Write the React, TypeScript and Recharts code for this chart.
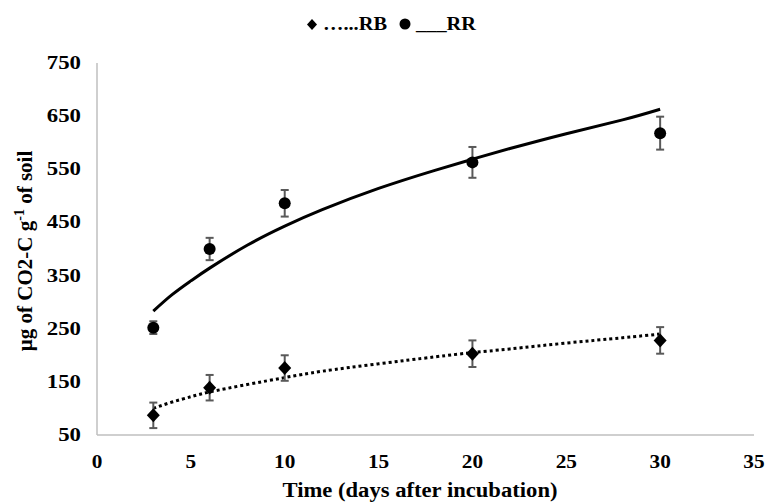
import React from "react";
import {
  ComposedChart,
  XAxis,
  YAxis,
  Scatter,
  Line,
  ErrorBar,
} from "recharts";

// Measured days
const days = [3, 6, 10, 20, 30];
// RB (dotted) values and error bars
const rbValues = [87, 139, 176, 203, 228];
const rbErrors = [24, 24, 24, 25, 25];
// RR (solid) values and error bars
const rrValues = [252, 400, 486, 563, 618];
const rrErrors = [12, 21, 25, 29, 31];

// Trend curves
const trendDays = [3, 4, 5, 6, 8, 10, 12, 15, 18, 20, 22, 25, 28, 30];
const rbTrendValues = [100, 112, 122, 131, 145, 158, 170, 184, 197, 205, 212, 223, 233, 240];
const rrTrendValues = [283, 314, 340, 364, 407, 443, 474, 514, 548, 569, 589, 617, 643, 663];

const xTicks = [0, 5, 10, 15, 20, 25, 30, 35];
const yTicks = [50, 150, 250, 350, 450, 550, 650, 750];

const rbData = days.map((d, i) => ({ x: d, y: rbValues[i], err: rbErrors[i] }));
const rrData = days.map((d, i) => ({ x: d, y: rrValues[i], err: rrErrors[i] }));
const rbTrend = trendDays.map((d, i) => ({ x: d, y: rbTrendValues[i] }));
const rrTrend = trendDays.map((d, i) => ({ x: d, y: rrTrendValues[i] }));

const serif: React.CSSProperties = {
  fontFamily: "Liberation Serif, Times New Roman, serif",
  fontWeight: 700,
};

const XTick = (props: any) => {
  const { x, y, payload } = props;
  return (
    <text
      x={x}
      y={y + 31}
      textAnchor="middle"
      style={{ ...serif, fontSize: 19 }}
      fill="#000"
      transform={`translate(${x},0) scale(1.12,1) translate(${-x},0)`}
    >
      {payload.value}
    </text>
  );
};

const YTick = (props: any) => {
  const { y, payload } = props;
  return (
    <text
      x={81}
      y={y + 6}
      textAnchor="end"
      style={{ ...serif, fontSize: 19 }}
      fill="#000"
      transform={`translate(81,0) scale(1.2,1) translate(-81,0)`}
    >
      {payload.value}
    </text>
  );
};

const Diamond = (props: any) => {
  const { cx, cy } = props;
  if (cx == null || cy == null) return null;
  return (
    <path
      d={`M${cx},${cy - 7} L${cx + 6.5},${cy} L${cx},${cy + 7} L${cx - 6.5},${cy} Z`}
      fill="#000"
    />
  );
};

const Dot = (props: any) => {
  const { cx, cy } = props;
  if (cx == null || cy == null) return null;
  return <circle cx={cx} cy={cy} r={6} fill="#000" />;
};

export default function App() {
  return (
    <div style={{ position: "absolute", left: 0, top: 0, width: 767, height: 504, background: "#fff" }}>
      <ComposedChart
        width={767}
        height={504}
        margin={{ top: 63, right: 13, bottom: 0, left: 0 }}
      >
        <XAxis
          dataKey="x"
          type="number"
          domain={[0, 35]}
          ticks={xTicks}
          allowDataOverflow
          height={69}
          tickLine={false}
          tickSize={0}
          axisLine={{ stroke: "#bfbfbf", strokeWidth: 1.5 }}
          tick={<XTick />}
          interval={0}
        />
        <YAxis
          type="number"
          domain={[50, 750]}
          ticks={yTicks}
          allowDataOverflow
          width={97}
          tickLine={false}
          tickSize={0}
          axisLine={{ stroke: "#bfbfbf", strokeWidth: 1.5 }}
          tick={<YTick />}
          interval={0}
        />
        <Line
          data={rrTrend}
          dataKey="y"
          type="natural"
          stroke="#000"
          strokeWidth={3}
          dot={false}
          activeDot={false}
          isAnimationActive={false}
        />
        <Line
          data={rbTrend}
          dataKey="y"
          type="natural"
          stroke="#000"
          strokeWidth={3}
          strokeDasharray="3 3"
          dot={false}
          activeDot={false}
          isAnimationActive={false}
        />
        <Scatter data={rrData} dataKey="y" shape={<Dot />} isAnimationActive={false}>
          <ErrorBar dataKey="err" direction="y" width={4} stroke="#595959" strokeWidth={2} />
        </Scatter>
        <Scatter data={rbData} dataKey="y" shape={<Diamond />} isAnimationActive={false}>
          <ErrorBar dataKey="err" direction="y" width={4} stroke="#595959" strokeWidth={2} />
        </Scatter>
        <text
          x={420}
          y={497}
          textAnchor="middle"
          style={{ ...serif, fontSize: 20 }}
          textLength={275}
          lengthAdjust="spacingAndGlyphs"
        >
          Time (days after incubation)
        </text>
        <text
          transform="translate(32,251) rotate(-90)"
          textAnchor="middle"
          style={{ ...serif, fontSize: 21 }}
        >
          <tspan>µg of CO2-C g</tspan>
          <tspan dy={-8} style={{ fontSize: 14 }}>-1</tspan>
          <tspan dy={8}> of soil</tspan>
        </text>
        <g>
          <path d="M312,19 L317,24.5 L312,30 L307,24.5 Z" fill="#000" />
          <text x={323} y={30} style={{ ...serif, fontSize: 18 }} textLength={64} lengthAdjust="spacingAndGlyphs">
            …...RB
          </text>
          <circle cx={405} cy={24} r={5.5} fill="#000" />
          <text x={416} y={30} style={{ ...serif, fontSize: 18 }} textLength={60} lengthAdjust="spacingAndGlyphs">
            ___RR
          </text>
        </g>
      </ComposedChart>
    </div>
  );
}
